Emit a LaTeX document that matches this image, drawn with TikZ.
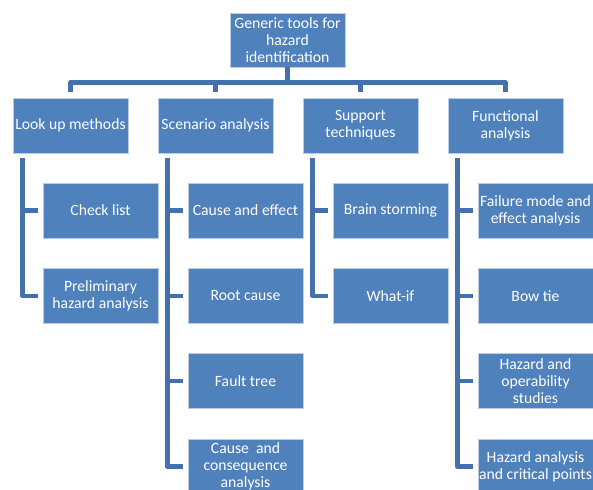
\documentclass[tikz,border=0pt]{standalone}
\usepackage{fontspec}
\setmainfont{Carlito}
\definecolor{boxblue}{HTML}{4F81BD}
\definecolor{boxrim}{HTML}{B9CDE5}
\definecolor{linkblue}{HTML}{4470AB}
\begin{document}
\begin{tikzpicture}[x=1pt, y=-1pt, line join=round,
    tool/.style={rectangle, fill=boxblue, draw=boxrim, line width=0.8pt,
      minimum width=115pt, minimum height=55pt, inner sep=0.5pt,
      align=center, text=white, font=\fontsize{15.7}{16.9}\selectfont},
    link/.style={draw=linkblue, line width=4.4pt}]

  %% ════ root ════
  \node[tool, minimum height=54pt] (root) at (287.5,40.0) {Generic tools for\\hazard\\identification};

  %% ════ first level ════
  \node[tool] (lookup)   at (70.5,125.5)  {Look up methods};
  \node[tool] (scenario) at (215.5,125.5) {Scenario analysis};
  \node[tool] (support)  at (360.5,125.5) {Support\\techniques};
  \node[tool] (function) at (505.5,125.5) {Functional\\analysis};

  %% ════ second level ════
  \node[tool] (check)   at (100.5,210.5) {Check list};
  \node[tool] (prelim)  at (100.5,296.0) {Preliminary\\hazard analysis};

  \node[tool] (cause)   at (245.5,210.5) {Cause and effect};
  \node[tool] (rootc)   at (245.5,296.0) {Root cause};
  \node[tool] (fault)   at (245.5,381.0) {Fault tree};
  \node[tool] (conseq)  at (245.5,466.5) {Cause~~and\\consequence\\analysis};

  \node[tool] (brain)   at (390.5,210.5) {Brain storming};
  \node[tool] (whatif)  at (390.5,296.0) {What-if};

  \node[tool] (fmea)    at (535.5,210.5) {Failure mode and\\effect analysis};
  \node[tool] (bowtie)  at (535.5,296.0) {Bow tie};
  \node[tool] (hazop)   at (535.5,381.0) {Hazard and\\operability\\studies};
  \node[tool] (haccp)   at (535.5,466.5) {Hazard analysis\\and critical points};

  %% ════ root -> first level ════
  \foreach \top in {lookup,scenario,support,function}
    \draw[link, shorten >=6pt] (root.south) -- ++(0,15) -| (\top.north);

  %% ════ first level -> second level ════
  \foreach \top/\sub in {lookup/check, lookup/prelim,
      scenario/cause, scenario/rootc, scenario/fault, scenario/conseq,
      support/brain, support/whatif,
      function/fmea, function/bowtie, function/hazop, function/haccp}
    \draw[link, shorten >=5pt] ([xshift=10pt,yshift=-5pt]\top.south west) |- (\sub.west);

  \pgfresetboundingbox
  \path[use as bounding box] (0,0) rectangle (593,489);
\end{tikzpicture}
\end{document}
